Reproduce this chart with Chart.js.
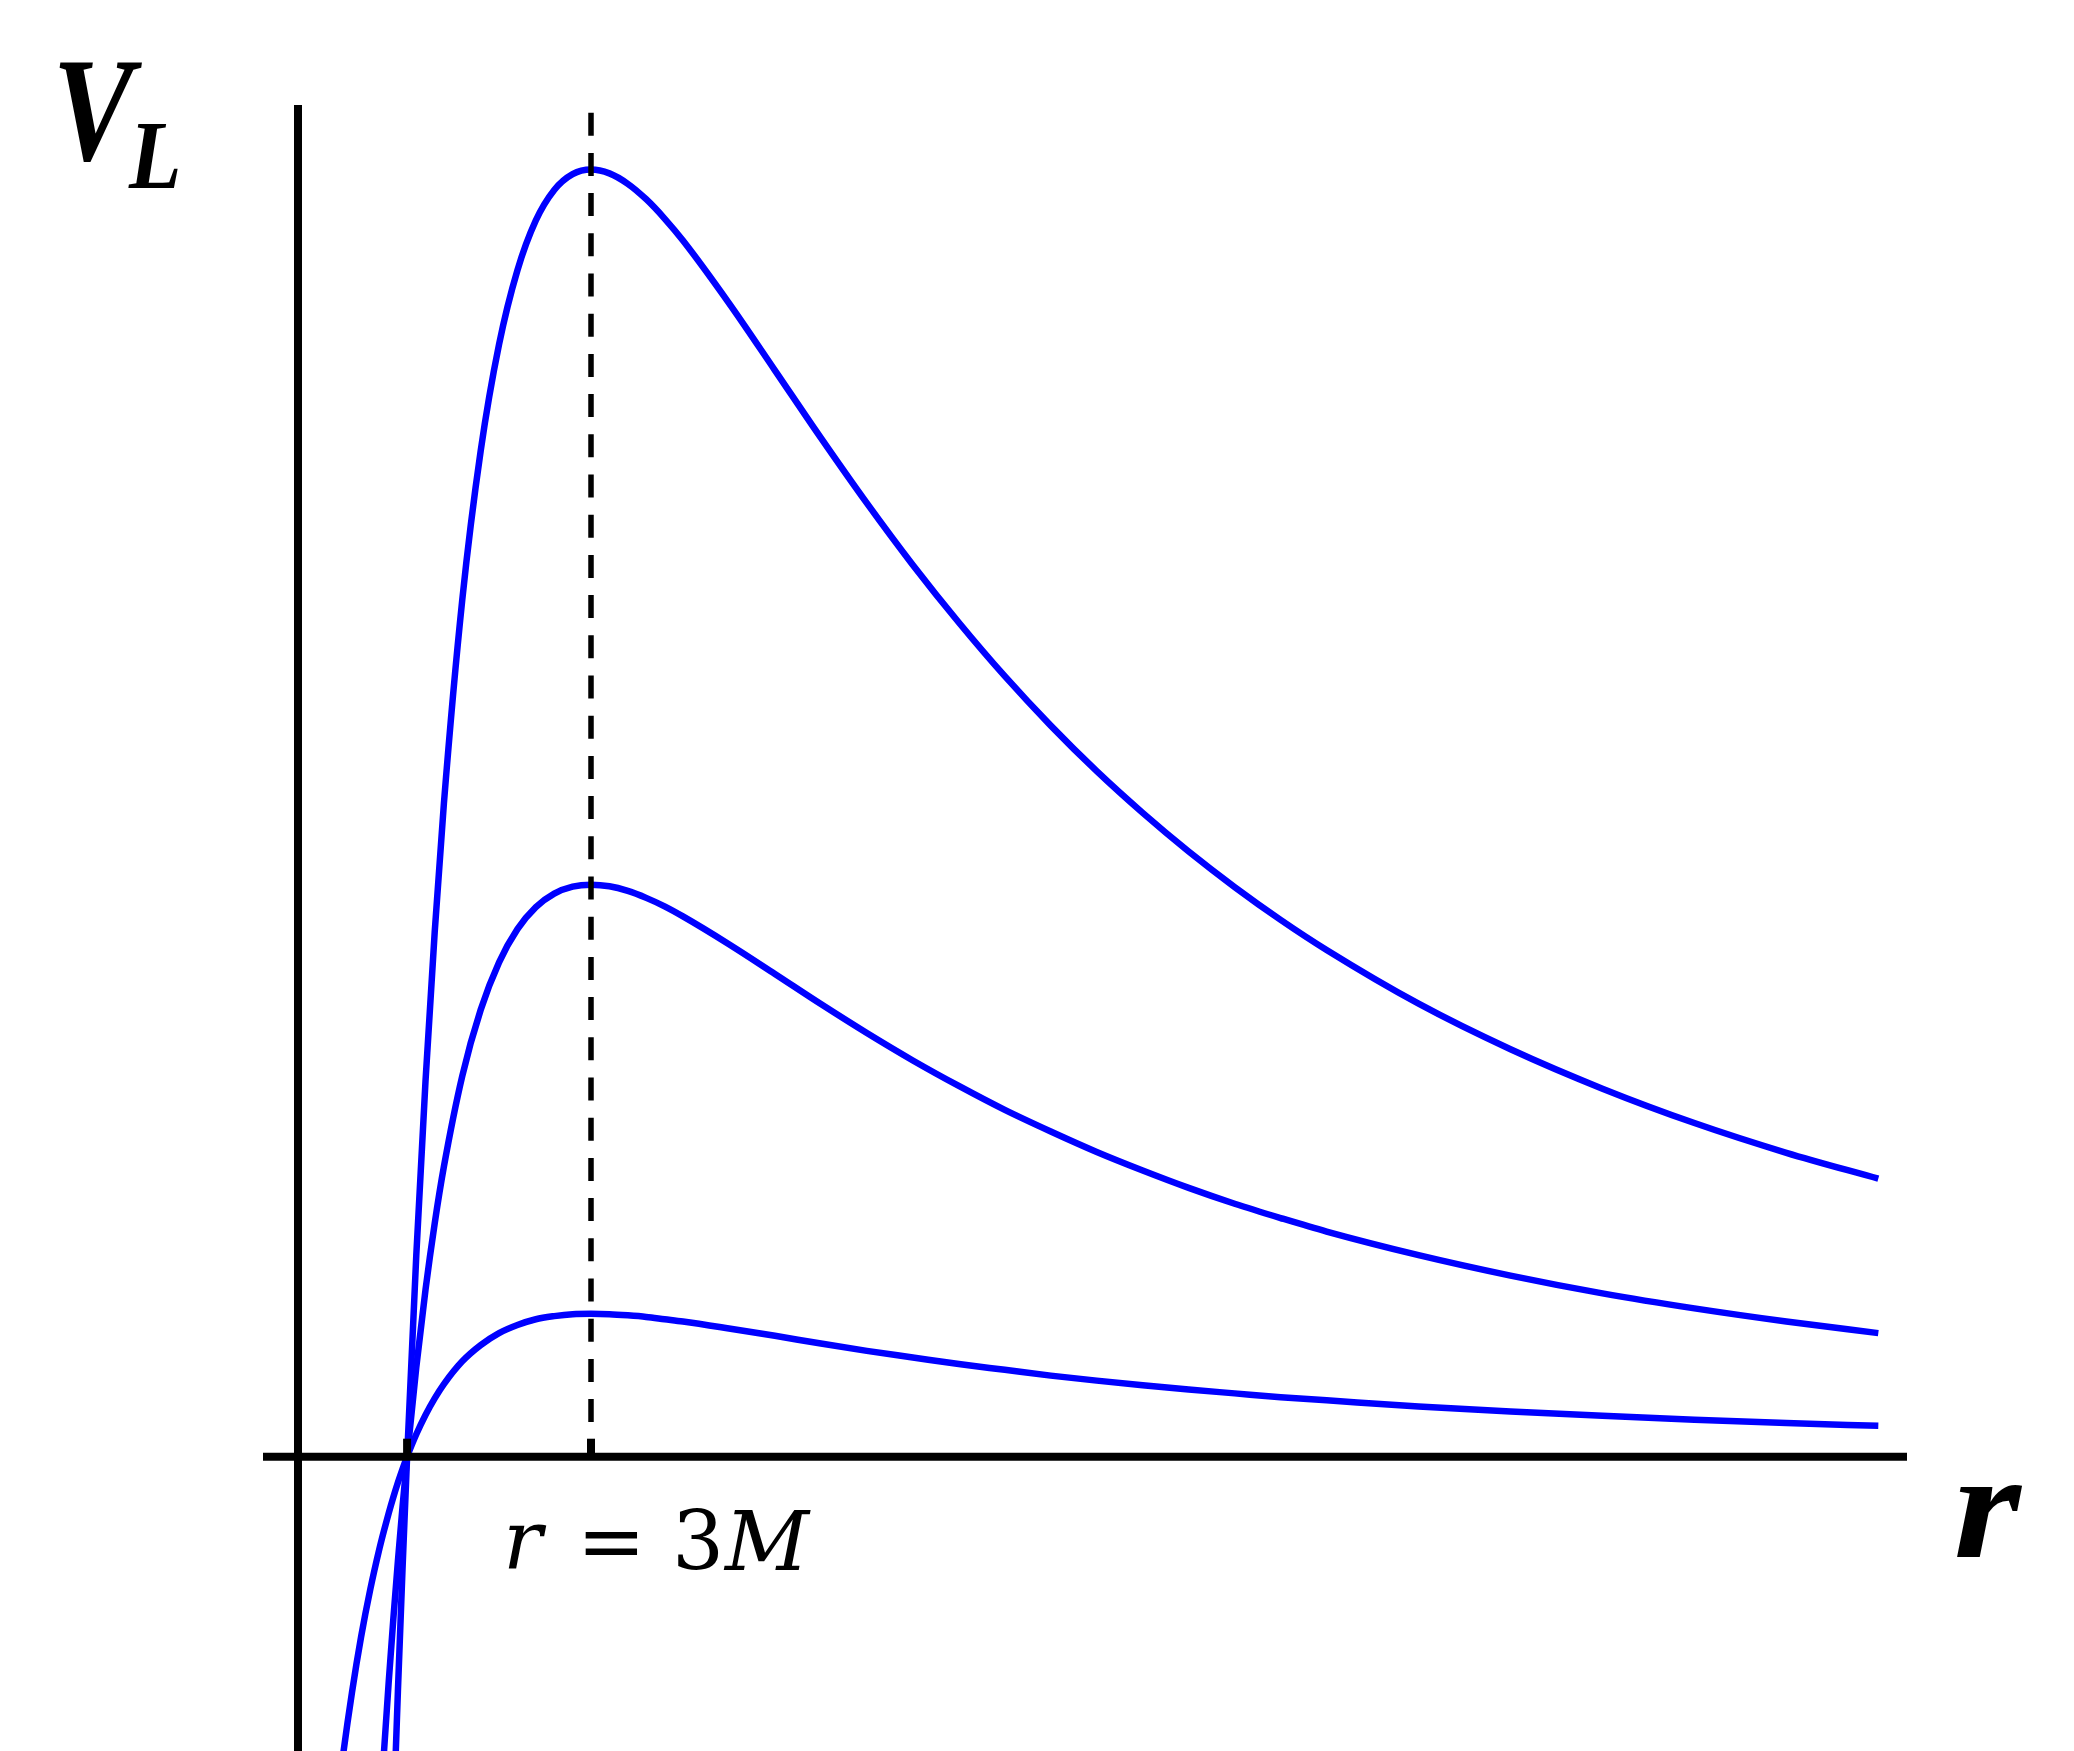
<!DOCTYPE html>
<html>
<head>
<meta charset="utf-8">
<script src="https://cdn.jsdelivr.net/npm/chart.js@4"></script>
<style>
html,body{margin:0;padding:0;background:#fff}
#wrap{width:2074px;height:1751px;position:relative}
</style>
</head>
<body>
<div id="wrap"><canvas id="c" width="2074" height="1751"></canvas></div>
<script>
// radius r (units of M) where the curves were read
const rVals = [1.60, 1.65, 1.70, 1.75, 1.80, 1.85, 1.875, 1.90, 1.925, 1.95, 1.975, 2.00, 2.05, 2.10, 2.15, 2.20,
  2.30, 2.40, 2.50, 2.60, 2.70, 2.80, 2.90, 3.00, 3.10, 3.20, 3.30, 3.40, 3.50, 3.75, 4.00, 4.25, 4.50, 4.75,
  5.00, 5.25, 5.50, 5.75, 6.00, 6.25, 6.50, 6.75, 7.00, 7.50, 8.00, 8.50, 9.00, 9.50, 10.00]

// V_L for the three angular momenta (lowest, middle, highest curve)
const vLow = [-0.0977, -0.0779, -0.0611, -0.0466, -0.0343, -0.0237, -0.0190, -0.0146, -0.0105, -0.0067, -0.0032, 0, 0.0058, 0.0108, 0.0151, 0.0188,
  0.0247, 0.0289, 0.0320, 0.0341, 0.0356, 0.0364, 0.0369, 0.0370, 0.0369, 0.0366, 0.0362, 0.0356, 0.0350, 0.0332, 0.0313, 0.0293, 0.0274, 0.0257,
  0.0240, 0.0225, 0.0210, 0.0197, 0.0185, 0.0174, 0.0164, 0.0154, 0.0146, 0.0130, 0.0117, 0.0106, 0.0096, 0.0087, 0.0080]
const vMid = [null, null, null, null, null, -0.0948, -0.0759, -0.0583, -0.0421, -0.0270, -0.0130, 0, 0.0232, 0.0432, 0.0604, 0.0751,
  0.0986, 0.1157, 0.1280, 0.1366, 0.1423, 0.1458, 0.1476, 0.1481, 0.1477, 0.1465, 0.1447, 0.1425, 0.1399, 0.1327, 0.1250, 0.1172, 0.1097, 0.1026,
  0.0960, 0.0898, 0.0842, 0.0789, 0.0741, 0.0696, 0.0655, 0.0618, 0.0583, 0.0522, 0.0469, 0.0423, 0.0384, 0.0350, 0.0320]
const vHigh = [null, null, null, null, null, null, null, null, -0.0946, -0.0607, -0.0292, 0, 0.0522, 0.0972, 0.1358, 0.1691,
  0.2219, 0.2604, 0.2880, 0.3072, 0.3201, 0.3280, 0.3321, 0.3333, 0.3323, 0.3296, 0.3256, 0.3206, 0.3149, 0.2987, 0.2813, 0.2638, 0.2469, 0.2309,
  0.2160, 0.2021, 0.1893, 0.1775, 0.1667, 0.1567, 0.1475, 0.1390, 0.1312, 0.1173, 0.1055, 0.0953, 0.0864, 0.0787, 0.0720]

// dashed marker at r = 3M, ticks on the r axis
const markR = 3
const markTop = 0.348
const rTicks = [2, 3]

const xRange = [1.2164, 10.156]
const yRange = [-0.0762, 0.35]
const vAxisAt = 1.4067

const BLUE = '#0000ff'

function pts(vals){
  return rVals.map((r, i) => ({ x: r, y: vals[i] })).filter(p => p.y !== null)
}

// put text so that its ink starts at `left`; optionally squeeze it to an ink width
function inkText(ctx, txt, font, left, base, inkW){
  ctx.font = font
  const m = ctx.measureText(txt)
  const w = m.actualBoundingBoxLeft + m.actualBoundingBoxRight
  const sx = inkW ? inkW / w : 1
  ctx.save()
  ctx.translate(left, base)
  ctx.scale(sx, 1)
  ctx.fillText(txt, m.actualBoundingBoxLeft, 0)
  ctx.restore()
}

const axesPlugin = {
  id: 'axes',
  afterDatasetsDraw(chart){
    const { ctx, chartArea: a, scales: { x, y } } = chart
    const y0 = y.getPixelForValue(0)
    const xv = x.getPixelForValue(vAxisAt)
    ctx.save()
    ctx.strokeStyle = '#000'
    ctx.lineWidth = 8
    ctx.lineCap = 'butt'
    ctx.beginPath()
    ctx.moveTo(a.left, y0); ctx.lineTo(a.right, y0)
    ctx.moveTo(xv, a.top); ctx.lineTo(xv, a.bottom)
    ctx.stroke()
    // tick marks above the r axis
    ctx.fillStyle = '#000'
    rTicks.forEach(t => { const px = x.getPixelForValue(t); ctx.fillRect(px - 4, y0 - 18, 8, 18) })
    ctx.restore()
  },
  afterDraw(chart){
    const ctx = chart.ctx
    ctx.save()
    ctx.fillStyle = '#000'
    ctx.textBaseline = 'alphabetic'
    ctx.textAlign = 'left'
    // axis labels
    inkText(ctx, 'V', 'italic bold 148px "Liberation Serif"', 59, 160, 83)
    inkText(ctx, 'L', 'italic bold 98px "Liberation Serif"', 128, 188, 50)
    inkText(ctx, 'r', 'italic bold 152px "Liberation Serif"', 1957, 1557, 66)
    // r = 3M under the axis
    inkText(ctx, 'r', 'italic 82px "DejaVu Serif"', 508, 1569)
    inkText(ctx, '=', '82px "DejaVu Serif"', 585, 1569)
    inkText(ctx, '3', '82px "DejaVu Serif"', 678, 1570)
    inkText(ctx, 'M', 'italic 82px "DejaVu Serif"', 723, 1570)
    ctx.restore()
  }
}

new Chart(document.getElementById('c'), {
  type: 'line',
  data: {
    datasets: [
      { data: [{ x: markR, y: markTop }, { x: markR, y: 0 }], borderColor: '#000', borderWidth: 5.5, borderDash: [23, 17.2], pointRadius: 0, tension: 0 },
      { data: pts(vHigh), borderColor: BLUE, borderWidth: 6.5, pointRadius: 0, cubicInterpolationMode: 'monotone' },
      { data: pts(vMid), borderColor: BLUE, borderWidth: 6.5, pointRadius: 0, cubicInterpolationMode: 'monotone' },
      { data: pts(vLow), borderColor: BLUE, borderWidth: 6.5, pointRadius: 0, cubicInterpolationMode: 'monotone' }
    ]
  },
  options: {
    responsive: false,
    animation: false,
    devicePixelRatio: 1,
    layout: { padding: { left: 263, right: 167, top: 105, bottom: 0 } },
    scales: {
      x: { type: 'linear', min: xRange[0], max: xRange[1], display: false },
      y: { type: 'linear', min: yRange[0], max: yRange[1], display: false }
    },
    plugins: { legend: { display: false }, tooltip: { enabled: false } },
    elements: { line: { fill: false } }
  },
  plugins: [axesPlugin]
})
</script>
</body>
</html>
